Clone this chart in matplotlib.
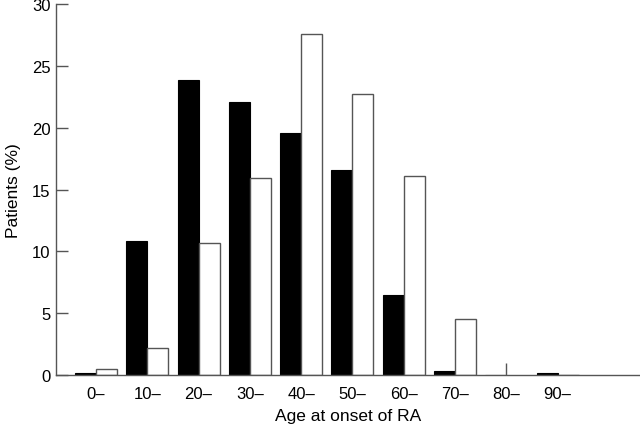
import numpy as np
import matplotlib
matplotlib.use("Agg")
import matplotlib.pyplot as plt

plt.rcParams['font.family'] = ['Liberation Sans', 'DejaVu Sans']

# Age groups and percentages
age_groups = ['0–', '10–', '20–', '30–', '40–', '50–', '60–', '70–', '80–', '90–']
black_pct = [0.2, 10.8, 23.9, 22.1, 19.6, 16.6, 6.5, 0.3, 0.0, 0.2]
white_pct = [0.5, 2.2, 10.7, 15.9, 27.6, 22.7, 16.1, 4.5, 1.0, 0.0]

x = np.arange(len(age_groups))
w = 0.41

fig = plt.figure(figsize=(6.4, 4.27), dpi=100)
ax = fig.add_axes([0.0875, 0.1194, 0.912, 0.8686])

ax.bar(x - w / 2, black_pct, width=w, color='black', edgecolor='black', linewidth=0.8)
# white bars; the 80- group shows only as a single thin line in the original
wv = np.array(white_pct)
mask = x != 8
ax.bar(x[mask] + w / 2, wv[mask], width=w, color='white', edgecolor='#555555', linewidth=1.0)
ax.vlines(x[~mask], 0, wv[~mask], color='#555555', linewidth=1.0)

ax.set_xlim(-0.78, 10.6)
ax.set_ylim(0, 30)
ax.set_yticks([0, 5, 10, 15, 20, 25, 30])
ax.set_xticks(x)
ax.set_xticklabels(age_groups)
ax.tick_params(axis='x', length=0, pad=8, labelsize=12)
ax.tick_params(axis='y', direction='in', length=8.5, width=1, color='#555555', pad=4, labelsize=12)

for s in ['top', 'right']:
    ax.spines[s].set_visible(False)
for s in ['left', 'bottom']:
    ax.spines[s].set_color('#555555')
    ax.spines[s].set_linewidth(1)

ax.set_xlabel('Age at onset of RA', fontsize=12.5, labelpad=5)
ax.set_ylabel('Patients (%)', fontsize=12.5, labelpad=8)

fig.savefig('out.png', dpi=100)
